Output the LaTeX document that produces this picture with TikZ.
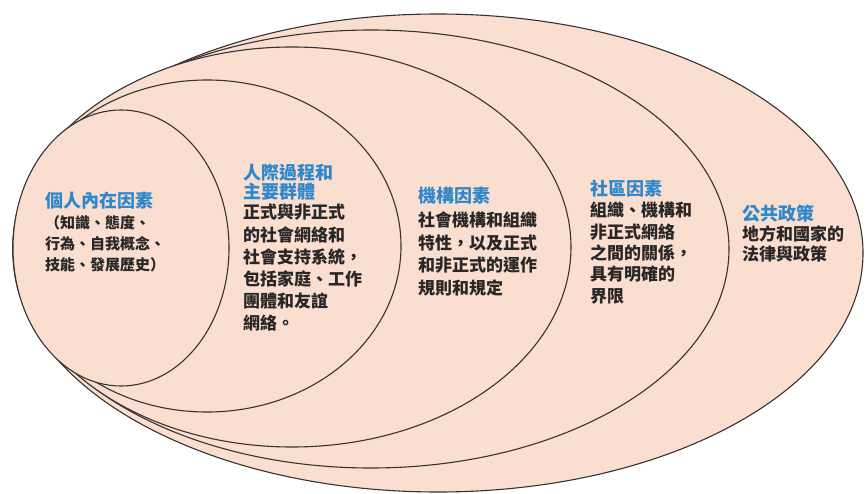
\documentclass[tikz,border=0pt]{standalone}
\usepackage{fontspec}
\setmainfont{Noto Sans CJK TC}
\definecolor{fillc}{RGB}{250,223,208}
\definecolor{ringc}{RGB}{55,50,50}
\definecolor{titlec}{RGB}{45,135,205}
\definecolor{bodyc}{RGB}{40,38,38}
\begin{document}
\begin{tikzpicture}[x=1pt,y=-1pt]
\tikzset{
  ring/.style={draw=ringc, line width=1.1pt, fill=fillc},
  ttl/.style={anchor=north west, inner sep=0pt, align=left, text=titlec, font=\bfseries\fontsize{18}{18.5}\selectfont},
  blk/.style={anchor=north west, inner sep=0pt, align=left, text=bodyc, font=\bfseries\fontsize{17}{22}\selectfont}
}
\useasboundingbox (0,0) rectangle (866,494);
% rings, outermost first
\path[ring] (438,253) ellipse [x radius=425pt, y radius=239pt];
\path[ring] (371,249) ellipse [x radius=358pt, y radius=219pt];
\path[ring] (292,247) ellipse [x radius=279pt, y radius=200pt];
\path[ring] (207,246) ellipse [x radius=194pt, y radius=166pt];
\path[ring] (121,248) ellipse [x radius=108pt, y radius=138pt];
% block 1
\node[ttl] (t1) at (45,192) {個人內在因素};
\node[blk, font=\bfseries\fontsize{15}{21.3}\selectfont] (b1) at (45,215) {（知識、態度、\\行為、自我概念、\\技能、發展歷史）};
% block 2
\node[ttl] (t2) at (243,164) {人際過程和\\主要群體};
\node[blk, font=\bfseries\fontsize{17}{22.2}\selectfont] (b2) at (243,204) {正式與非正式\\的社會網絡和\\社會支持系統，\\包括家庭、工作\\團體和友誼\\網絡。};
% block 3
\node[ttl] (t3) at (418,187) {機構因素};
\node[blk, font=\bfseries\fontsize{17}{22.5}\selectfont] (b3) at (418,212) {社會機構和組織\\特性，以及正式\\和非正式的運作\\規則和規定};
% block 4
\node[ttl] (t4) at (590,180) {社區因素};
\node[blk, font=\bfseries\fontsize{17}{21.3}\selectfont] (b4) at (590,202) {組織、機構和\\非正式網絡\\之間的關係，\\具有明確的\\界限};
% block 5
\node[ttl] (t5) at (742,205) {公共政策};
\node[blk, font=\bfseries\fontsize{17}{20}\selectfont] (b5) at (742,225) {地方和國家的\\法律與政策};
\end{tikzpicture}
\end{document}
